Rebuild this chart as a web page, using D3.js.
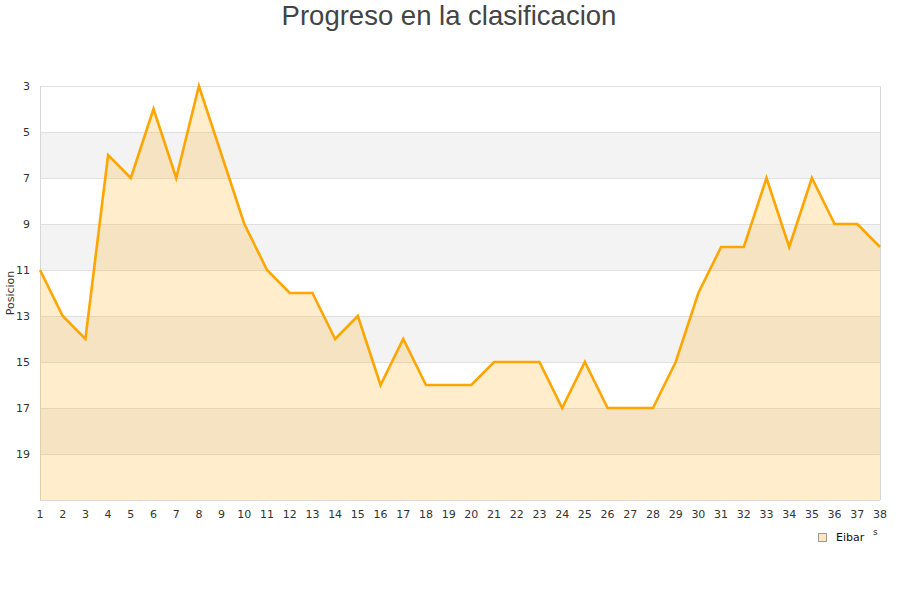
<!DOCTYPE html>
<html><head><meta charset="utf-8">
<script src="https://cdn.jsdelivr.net/npm/d3@7"></script>
<style>body{margin:0;background:#fff}svg{display:block}</style>
</head><body>
<script>
const jornadas = d3.range(1, 39);
const posiciones = [11,13,14,6,7,4,7,3,6,9,11,12,12,14,13,16,14,16,16,16,15,15,15,17,15,17,17,17,15,12,10,10,7,10,7,9,9,10];
const yTicks = [3,5,7,9,11,13,15,17,19];
const seriesName = "Eibar";
const titleText = "Progreso en la clasificacion";
const yLabel = "Posicion";

const W = 900, H = 600;
const m = {l: 40, r: 20, t: 86, b: 100};
const svg = d3.select("body").append("svg").attr("width", W).attr("height", H);
const x = d3.scaleLinear().domain([1, 38]).range([m.l, W - m.r]);
const y = d3.scaleLinear().domain([3, 21]).range([m.t, H - m.b]);
const font = "DejaVu Sans, sans-serif";

// bands
const bands = d3.range(3, 21, 2);
svg.selectAll("rect.band").data(bands).enter().append("rect")
  .attr("x", x(1)).attr("width", x(38) - x(1))
  .attr("y", d => y(d)).attr("height", d => y(d + 2) - y(d))
  .attr("fill", (d, i) => i % 2 ? "#f3f3f3" : "#ffffff");
// grid lines
svg.selectAll("line.grid").data(yTicks.concat([21])).enter().append("line")
  .attr("x1", x(1)).attr("x2", x(38))
  .attr("y1", d => y(d) + 0.5).attr("y2", d => y(d) + 0.5)
  .attr("stroke", "#e0e0e0");
// borders
svg.append("line").attr("x1", x(1) + 0.5).attr("x2", x(1) + 0.5).attr("y1", y(3)).attr("y2", y(21)).attr("stroke", "#d8d8d8");
svg.append("line").attr("x1", x(38) + 0.5).attr("x2", x(38) + 0.5).attr("y1", y(3)).attr("y2", y(21)).attr("stroke", "#d8d8d8");
svg.append("line").attr("x1", x(1)).attr("x2", x(38)).attr("y1", y(21) + 0.5).attr("y2", y(21) + 0.5).attr("stroke", "#d8d8d8");

const data = jornadas.map((j, i) => ({j, p: posiciones[i]}));
const area = d3.area().x(d => x(d.j)).y0(y(21)).y1(d => y(d.p));
svg.append("path").datum(data).attr("d", area).attr("fill", "rgba(255,165,0,0.2)");
const line = d3.line().x(d => x(d.j)).y(d => y(d.p));
svg.append("path").datum(data).attr("d", line).attr("fill", "none")
  .attr("stroke", "#ffa500").attr("stroke-width", 2.6).attr("stroke-linejoin", "miter");

// y ticks
svg.selectAll("text.yt").data(yTicks).enter().append("text")
  .attr("x", 30).attr("y", d => y(d) + 4).attr("text-anchor", "end")
  .attr("font-family", font).attr("font-size", 11).attr("fill", "#333").text(d => d);
// x ticks
svg.selectAll("text.xt").data(jornadas).enter().append("text")
  .attr("x", d => x(d)).attr("y", 518).attr("text-anchor", "middle")
  .attr("font-family", font).attr("font-size", 11).attr("fill", "#333").text(d => d);

// title
svg.append("text").attr("x", 449).attr("y", 25).attr("text-anchor", "middle")
  .attr("font-family", "Liberation Sans, Arial, sans-serif").attr("font-size", 27.5).attr("fill", "#444").text(titleText);
// y label
svg.append("text").attr("transform", "translate(14,293) rotate(-90)").attr("text-anchor", "middle")
  .attr("font-family", font).attr("font-size", 11).attr("fill", "#333").text(yLabel);

// legend
svg.append("rect").attr("x", 818.5).attr("y", 533.5).attr("width", 8).attr("height", 8)
  .attr("fill", "#fde7c0").attr("stroke", "#999");
svg.append("text").attr("x", 836).attr("y", 541).attr("font-family", font).attr("font-size", 11).attr("fill", "#111").text(seriesName);
svg.append("text").attr("x", 873).attr("y", 535).attr("font-family", font).attr("font-size", 9).attr("fill", "#333").text("s");
</script>
</body></html>
